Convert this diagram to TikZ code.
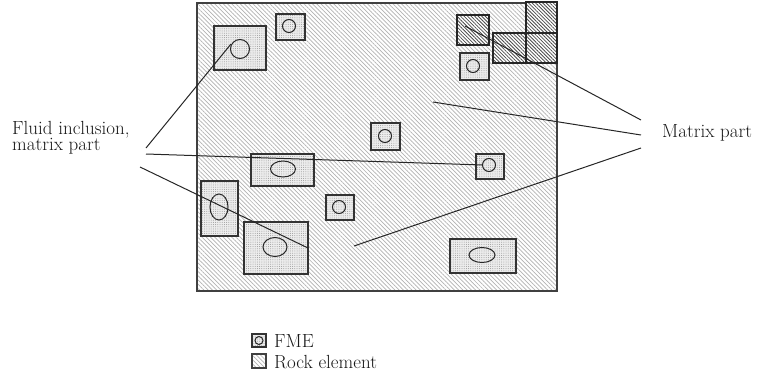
\documentclass[tikz,border=0pt]{standalone}
\usetikzlibrary{patterns.meta,shapes.geometric}
\begin{document}
\begin{tikzpicture}[x=1pt,y=-1pt,
  matrixfill/.style={preaction={fill=white},pattern={Lines[angle=-45,distance=3pt,line width=0.7pt]},pattern color=gray!60},
  frame/.style={matrixfill,draw=black!75,line width=1.3pt,inner sep=0pt,outer sep=0pt,rectangle},
  fmefill/.style={preaction={fill=gray!14},pattern={Dots[distance=2.2pt,radius=0.5pt]},pattern color=gray!80},
  fme/.style={fmefill,draw=black!80,line width=1.1pt,inner sep=0pt,outer sep=0pt,rectangle},
  incl/.style={fmefill,draw=black!85,line width=1pt,inner sep=0pt,outer sep=0pt,ellipse},
  rock/.style={preaction={fill=white},pattern={Lines[angle=-45,distance=2.5pt,line width=0.8pt]},pattern color=black!70,draw=black!85,line width=1.8pt,inner sep=0pt,outer sep=0pt,rectangle},
  lbl/.style={font=\fontsize{19}{16}\selectfont,inner sep=0pt,text=black!90},
  conn/.style={draw=black!85,line width=1pt}]
\useasboundingbox (0,0) rectangle (760,383);
% frame
\node[frame,minimum width=360pt,minimum height=288pt] (frame) at (377,147) {};
% FME elements
\node[fme,minimum width=52pt,minimum height=44pt] (f1) at (240,48) {};
\node[incl,minimum width=19pt,minimum height=19pt] (c1) at (240,49) {};
\node[fme,minimum width=29pt,minimum height=26pt] (f2) at (290.5,27) {};
\node[incl,minimum width=13pt,minimum height=13pt] (c2) at (289,26) {};
\node[fme,minimum width=29pt,minimum height=27pt] (f3) at (474.5,66.5) {};
\node[incl,minimum width=13pt,minimum height=13pt] (c3) at (473,66) {};
\node[fme,minimum width=29pt,minimum height=27pt] (f4) at (385.5,136.5) {};
\node[incl,minimum width=13pt,minimum height=13pt] (c4) at (385,136) {};
\node[fme,minimum width=63pt,minimum height=32pt] (f5) at (282.5,170) {};
\node[incl,minimum width=25pt,minimum height=16pt] (c5) at (283,169) {};
\node[fme,minimum width=28pt,minimum height=25pt] (f6) at (490,166.5) {};
\node[incl,minimum width=13pt,minimum height=13pt] (c6) at (489,165) {};
\node[fme,minimum width=37pt,minimum height=55pt] (f7) at (219.5,208.5) {};
\node[incl,minimum width=18pt,minimum height=26pt] (c7) at (219,207) {};
\node[fme,minimum width=28pt,minimum height=25pt] (f8) at (340,207.5) {};
\node[incl,minimum width=13pt,minimum height=13pt] (c8) at (339,207) {};
\node[fme,minimum width=64pt,minimum height=52pt] (f9) at (276,248) {};
\node[incl,minimum width=24pt,minimum height=19pt] (c9) at (275,247) {};
\node[fme,minimum width=66pt,minimum height=34pt] (f10) at (483,256) {};
\node[incl,minimum width=26pt,minimum height=15pt] (c10) at (482,255) {};
% rock elements
\node[rock,minimum width=32pt,minimum height=30pt] (r1) at (473,30) {};
\node[rock,minimum width=33pt,minimum height=30pt] (r2) at (509.5,48) {};
\node[rock,minimum width=31pt,minimum height=30pt] (r3) at (541.5,48) {};
\node[rock,minimum width=31pt,minimum height=31pt] (r4) at (541.5,17.5) {};
% labels
\node[lbl,anchor=base west,align=left] (lblL) at (12,150) {Fluid inclusion,\\matrix part};
\node[lbl,anchor=base west] (lblR) at (662,137) {Matrix part};
% connector points
\coordinate (la) at (146,148);
\coordinate (lb) at (146,154);
\coordinate (lc) at (140,167);
\coordinate (ra) at (641,120);
\coordinate (rb) at (641,135);
\coordinate (rc) at (641,148);
\coordinate (ea) at (231,44);
\coordinate (eb) at (483,165);
\coordinate (ec) at (308,248);
\coordinate (ma) at (465,26);
\coordinate (mb) at (433,102);
\coordinate (mc) at (354,246);
\draw[conn] (la) -- (ea);
\draw[conn] (lb) -- (eb);
\draw[conn] (lc) -- (ec);
\draw[conn] (ra) -- (ma);
\draw[conn] (rb) -- (mb);
\draw[conn] (rc) -- (mc);
% legend
\node[fme,minimum width=14pt,minimum height=13pt] (legF) at (259,340.5) {};
\node[incl,minimum width=8pt,minimum height=8pt] (legFc) at (259,340.5) {};
\node[frame,line width=1.1pt,minimum width=14pt,minimum height=14pt] (legR) at (259,361) {};
\node[lbl,anchor=base west] (legFt) at (274,347) {FME};
\node[lbl,anchor=base west] (legRt) at (274,368) {Rock element};
\end{tikzpicture}
\end{document}
